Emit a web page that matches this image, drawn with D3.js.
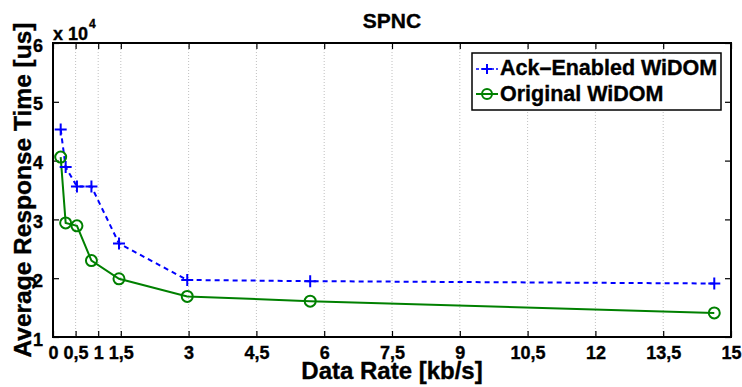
<!DOCTYPE html>
<html>
<head>
<meta charset="utf-8">
<script src="https://cdnjs.cloudflare.com/ajax/libs/d3/7.8.5/d3.min.js"></script>
<style>
  html, body { margin: 0; padding: 0; background: #fff; }
  svg { display: block; font-family: "Liberation Sans", Arial, Helvetica, sans-serif; font-weight: bold; }
  svg text { stroke: #000; stroke-width: 0.35px; }
</style>
</head>
<body>
<svg id="chart" width="742" height="387"></svg>
<script>
// ---- data ----
const dataRates = [0.17, 0.28, 0.53, 0.85, 1.46, 2.97, 5.69, 14.63];
const ackEnabled = [45300, 38900, 35600, 35600, 25900, 19700, 19500, 19100];
const original = [40600, 29400, 28900, 23000, 19900, 16900, 16100, 14100];
const seriesNames = ["Ack\u2013Enabled WiDOM", "Original WiDOM"];
const xTicks = [0, 0.5, 1, 1.5, 3, 4.5, 6, 7.5, 9, 10.5, 12, 13.5, 15];
const yTicks = [10000, 20000, 30000, 40000, 50000, 60000];
const titleText = "SPNC";
const xLabel = "Data Rate [kb/s]";
const yLabel = "Average Response Time [us]";

// ---- layout ----
const L = 53, R = 731, T = 43, B = 337;
const svg = d3.select("#chart");
const x = d3.scaleLinear().domain([0, 15]).range([L, R]);
const y = d3.scaleLinear().domain([10000, 60000]).range([B, T]);
const fmtX = d => String(d).replace(".", ",");

// grid (vertical dotted)
svg.append("g").selectAll("line")
  .data(xTicks.filter(d => d > 0 && d < 15))
  .join("line")
  .attr("x1", d => x(d)).attr("x2", d => x(d))
  .attr("y1", T).attr("y2", B)
  .attr("stroke", "#b0b0b0").attr("stroke-width", 0.8)
  .attr("stroke-dasharray", "1,2");

// axes
const tickLen = 6;
const xAxisB = d3.axisBottom(x).tickValues(xTicks).tickFormat(fmtX).tickSizeInner(-tickLen).tickSizeOuter(0).tickPadding(9);
const gxb = svg.append("g").attr("transform", `translate(0,${B})`).call(xAxisB);
gxb.selectAll("text").attr("font-size", 18).attr("font-weight", "bold").attr("fill", "#000")
  .attr("font-family", "Liberation Sans, Arial, sans-serif");
const xAxisT = d3.axisTop(x).tickValues(xTicks).tickFormat("").tickSizeInner(-tickLen).tickSizeOuter(0);
svg.append("g").attr("transform", `translate(0,${T})`).call(xAxisT);

const yAxisL = d3.axisLeft(y).tickValues(yTicks).tickFormat(d => d / 10000).tickSizeInner(-tickLen).tickSizeOuter(0).tickPadding(10);
const gyl = svg.append("g").attr("transform", `translate(${L},0)`).call(yAxisL);
gyl.selectAll("text").attr("font-size", 18).attr("font-weight", "bold").attr("fill", "#000")
  .attr("font-family", "Liberation Sans, Arial, sans-serif").attr("dy", "0.45em");
const yAxisR = d3.axisRight(y).tickValues(yTicks).tickFormat("").tickSizeInner(-tickLen).tickSizeOuter(0);
svg.append("g").attr("transform", `translate(${R},0)`).call(yAxisR);

svg.selectAll(".domain").remove();
svg.selectAll(".tick line").attr("stroke", "#000").attr("stroke-width", 1.2);

// box
svg.append("rect").attr("x", L).attr("y", T).attr("width", R - L).attr("height", B - T)
  .attr("fill", "none").attr("stroke", "#000").attr("stroke-width", 2);

// exponent label
const ex = svg.append("text").attr("x", L).attr("y", 40).attr("font-size", 18).attr("fill", "#000");
ex.append("tspan").text("x 10");
ex.append("tspan").attr("font-size", 12).attr("dy", -12).attr("dx", 1).text("4");

// lines
const pts = (vals) => dataRates.map((d, i) => [d, vals[i]]);
const line = d3.line().x(d => x(d[0])).y(d => y(d[1]));
svg.append("path").datum(pts(original)).attr("d", line)
  .attr("fill", "none").attr("stroke", "#008000").attr("stroke-width", 2);
svg.append("path").datum(pts(ackEnabled)).attr("d", line)
  .attr("fill", "none").attr("stroke", "#0000ff").attr("stroke-width", 2).attr("stroke-dasharray", "5,4");

// markers
const plusSize = 6;
function drawPlus(g, cx, cy, s) {
  g.append("path").attr("d", `M${cx - s},${cy}H${cx + s}M${cx},${cy - s}V${cy + s}`)
    .attr("stroke", "#0000ff").attr("stroke-width", 2).attr("fill", "none");
}
const gm = svg.append("g");
pts(ackEnabled).forEach(p => drawPlus(gm, x(p[0]), y(p[1]), plusSize));
svg.append("g").selectAll("circle").data(pts(original)).join("circle")
  .attr("cx", d => x(d[0])).attr("cy", d => y(d[1])).attr("r", 5.5)
  .attr("fill", "none").attr("stroke", "#008000").attr("stroke-width", 2);

// title & labels
svg.append("text").attr("x", (L + R) / 2).attr("y", 28).attr("text-anchor", "middle")
  .attr("font-size", 21).attr("fill", "#000").text(titleText);
svg.append("text").attr("x", (L + R) / 2).attr("y", 379).attr("text-anchor", "middle")
  .attr("font-size", 24).attr("fill", "#000").text(xLabel);
svg.append("text").attr("transform", `translate(31,${(T + B) / 2}) rotate(-90)`).attr("text-anchor", "middle")
  .attr("font-size", 24.5).attr("fill", "#000").text(yLabel);

// legend
const lg = svg.append("g");
lg.append("rect").attr("x", 472).attr("y", 53).attr("width", 249).attr("height", 57)
  .attr("fill", "#fff").attr("stroke", "#000").attr("stroke-width", 1.5);
const rows = [75, 101];
// row 1: ack
lg.append("line").attr("x1", 476).attr("x2", 498).attr("y1", 69).attr("y2", 69)
  .attr("stroke", "#0000ff").attr("stroke-width", 1.5).attr("stroke-dasharray", "3,2");
drawPlus(lg, 487, 69, 5);
lg.append("text").attr("x", 500).attr("y", rows[0]).attr("font-size", 21.5).attr("fill", "#000").text(seriesNames[0]);
// row 2: original
lg.append("line").attr("x1", 476).attr("x2", 498).attr("y1", 94).attr("y2", 94)
  .attr("stroke", "#008000").attr("stroke-width", 2);
lg.append("circle").attr("cx", 487).attr("cy", 94).attr("r", 5).attr("fill", "none")
  .attr("stroke", "#008000").attr("stroke-width", 2);
lg.append("text").attr("x", 500).attr("y", rows[1]).attr("font-size", 21.5).attr("fill", "#000").text(seriesNames[1]);
</script>
</body>
</html>
